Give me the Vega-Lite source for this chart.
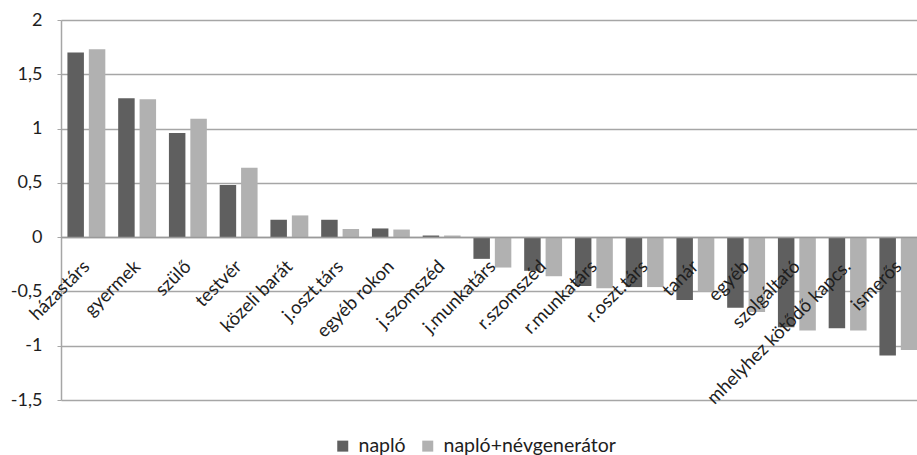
{
  "$schema": "https://vega.github.io/schema/vega-lite/v6.json",
  "width": 856,
  "height": 380,
  "autosize": "none",
  "padding": {"left": 61, "top": 20, "right": 0, "bottom": 55},
  "background": "white",
  "config": {
    "view": {"stroke": null},
    "font": "Lato",
    "axis": {"labelFont": "Lato", "labelColor": "#1e1e1e"},
    "legend": {"labelFont": "Lato", "labelColor": "#1e1e1e"}
  },
  "data": {
    "values": [
      {"kat": "házastárs", "sorozat": "napló", "ertek": 1.70},
      {"kat": "házastárs", "sorozat": "napló+névgenerátor", "ertek": 1.73},
      {"kat": "gyermek", "sorozat": "napló", "ertek": 1.28},
      {"kat": "gyermek", "sorozat": "napló+névgenerátor", "ertek": 1.27},
      {"kat": "szülő", "sorozat": "napló", "ertek": 0.96},
      {"kat": "szülő", "sorozat": "napló+névgenerátor", "ertek": 1.09},
      {"kat": "testvér", "sorozat": "napló", "ertek": 0.48},
      {"kat": "testvér", "sorozat": "napló+névgenerátor", "ertek": 0.64},
      {"kat": "közeli barát", "sorozat": "napló", "ertek": 0.16},
      {"kat": "közeli barát", "sorozat": "napló+névgenerátor", "ertek": 0.20},
      {"kat": "j.oszt.társ", "sorozat": "napló", "ertek": 0.16},
      {"kat": "j.oszt.társ", "sorozat": "napló+névgenerátor", "ertek": 0.075},
      {"kat": "egyéb rokon", "sorozat": "napló", "ertek": 0.08},
      {"kat": "egyéb rokon", "sorozat": "napló+névgenerátor", "ertek": 0.07},
      {"kat": "j.szomszéd", "sorozat": "napló", "ertek": 0.015},
      {"kat": "j.szomszéd", "sorozat": "napló+névgenerátor", "ertek": 0.015},
      {"kat": "j.munkatárs", "sorozat": "napló", "ertek": -0.20},
      {"kat": "j.munkatárs", "sorozat": "napló+névgenerátor", "ertek": -0.28},
      {"kat": "r.szomszéd", "sorozat": "napló", "ertek": -0.31},
      {"kat": "r.szomszéd", "sorozat": "napló+névgenerátor", "ertek": -0.36},
      {"kat": "r.munkatárs", "sorozat": "napló", "ertek": -0.45},
      {"kat": "r.munkatárs", "sorozat": "napló+névgenerátor", "ertek": -0.47},
      {"kat": "r.oszt.társ", "sorozat": "napló", "ertek": -0.46},
      {"kat": "r.oszt.társ", "sorozat": "napló+névgenerátor", "ertek": -0.46},
      {"kat": "tanár", "sorozat": "napló", "ertek": -0.58},
      {"kat": "tanár", "sorozat": "napló+névgenerátor", "ertek": -0.50},
      {"kat": "egyéb", "sorozat": "napló", "ertek": -0.65},
      {"kat": "egyéb", "sorozat": "napló+névgenerátor", "ertek": -0.69},
      {"kat": "szolgáltató", "sorozat": "napló", "ertek": -0.83},
      {"kat": "szolgáltató", "sorozat": "napló+névgenerátor", "ertek": -0.86},
      {"kat": "mhelyhez kötődő kapcs.", "sorozat": "napló", "ertek": -0.84},
      {"kat": "mhelyhez kötődő kapcs.", "sorozat": "napló+névgenerátor", "ertek": -0.86},
      {"kat": "ismerős", "sorozat": "napló", "ertek": -1.09},
      {"kat": "ismerős", "sorozat": "napló+névgenerátor", "ertek": -1.04}
    ]
  },
  "mark": {"type": "bar"},
  "encoding": {
    "x": {
      "field": "kat",
      "type": "nominal",
      "sort": null,
      "scale": {"range": [0, 862.75], "paddingInner": 0, "paddingOuter": 0},
      "axis": {
        "title": null,
        "offset": -163,
        "zindex": 1,
        "domainColor": "#9a9a9a",
        "domainWidth": 1.5,
        "ticks": false,
        "labelAngle": -45,
        "labelAlign": "right",
        "labelBaseline": "middle",
        "labelPadding": 26,
        "labelLimit": 0,
        "labelOverlap": false,
        "labelFontSize": 18.5
      }
    },
    "xOffset": {
      "field": "sorozat",
      "type": "nominal",
      "scale": {"paddingInner": 0.23, "paddingOuter": 0.3}
    },
    "y": {
      "field": "ertek",
      "type": "quantitative",
      "scale": {"domain": [-1.5, 2], "nice": false, "zero": false},
      "axis": {
        "title": null,
        "values": [-1.5, -1, -0.5, 0, 0.5, 1, 1.5, 2],
        "labelExpr": "replace(replace(format(datum.value, '~g'), '.', ','), '\u2212', '-')",
        "labelFontSize": 18,
        "labelPadding": 15,
        "tickSize": 4,
        "tickColor": "#a6a6a6",
        "domainColor": "#a6a6a6",
        "domainWidth": 1.5,
        "grid": true,
        "gridColor": "#a6a6a6",
        "gridWidth": 1.5
      }
    },
    "color": {
      "field": "sorozat",
      "type": "nominal",
      "scale": {"domain": ["napló", "napló+névgenerátor"], "range": ["#5f5f5f", "#b1b1b1"]},
      "legend": {
        "title": null,
        "orient": "none",
        "direction": "horizontal",
        "legendX": 272,
        "legendY": 416,
        "symbolType": "square",
        "symbolSize": 121,
        "symbolStrokeWidth": 0,
        "labelFontSize": 19.5,
        "labelLimit": 0,
        "labelOffset": 6,
        "columnPadding": 12
      }
    }
  }
}
